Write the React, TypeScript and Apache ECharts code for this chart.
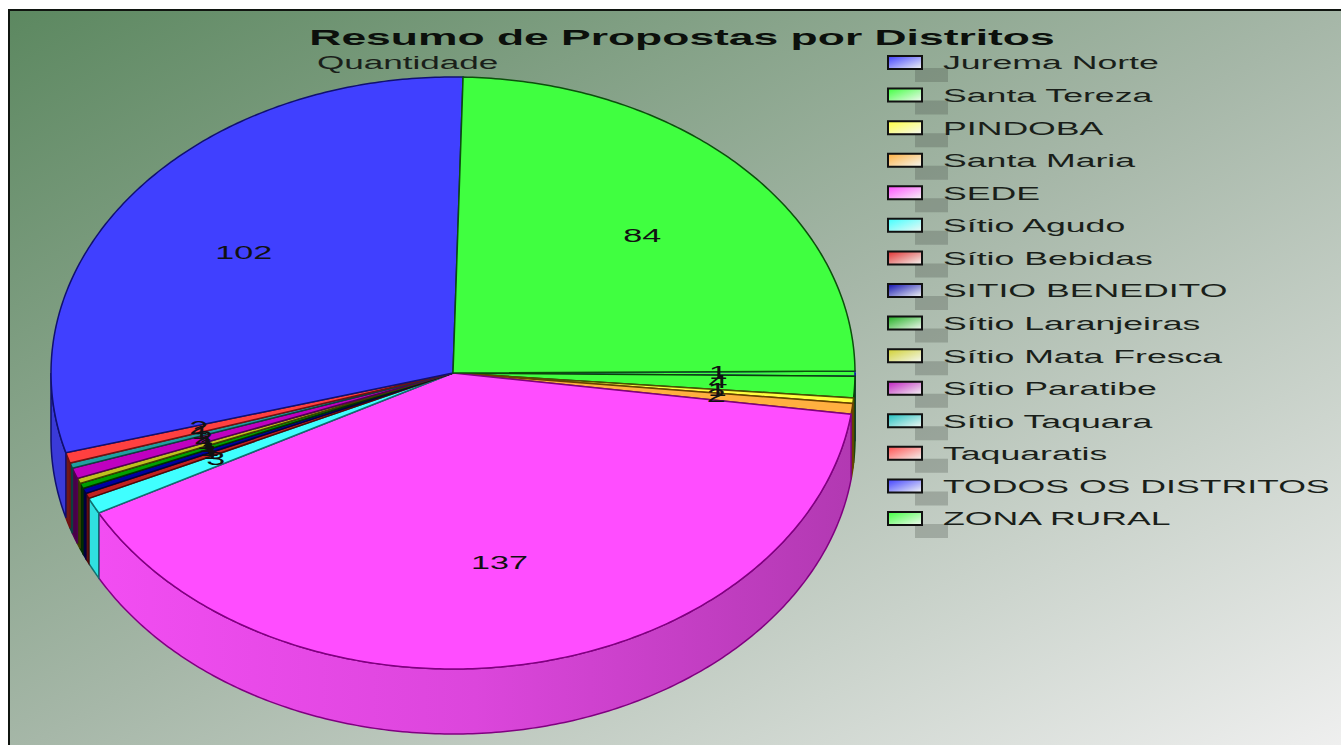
import React, { useEffect, useRef } from "react";
import * as echarts from "echarts";

const chartTitle = "Resumo de Propostas por Distritos";
const seriesName = "Quantidade";
const categories = [
  "Jurema Norte", "Santa Tereza", "PINDOBA", "Santa Maria", "SEDE", "Sítio Agudo", "Sítio Bebidas",
  "SITIO BENEDITO", "Sítio Laranjeiras", "Sítio Mata Fresca", "Sítio Paratibe", "Sítio Taquara",
  "Taquaratis", "TODOS OS DISTRITOS", "ZONA RURAL",
];
const values = [1, 4, 1, 2, 137, 3, 1, 1, 1, 1, 2, 1, 2, 102, 84];
const faceColors = [
  "#40ff40", "#40ff40", "#ffff40", "#ffb040", "#ff4dff", "#40ffff", "#c02020", "#0000a0",
  "#00a000", "#c0c020", "#c000c0", "#20a0a0", "#ff4040", "#4040ff", "#40ff40",
];
const strokeColors = [
  "#1010a0", "#0c400c", "#505000", "#6a4000", "#800080", "#107070", "#500808", "#000040",
  "#003000", "#404000", "#500050", "#0c4040", "#701010", "#101070", "#0c500c",
];
const sideColors = [
  "#000030", "#062006", "#202000", "#604010", "", "#30e0e0", "#601010", "#000040",
  "#002800", "#383800", "#480048", "#0c3c3c", "#701818", "#3a3ad8", "#40ff40",
];
const legendColors = [
  "#4040ff", "#40ff40", "#ffff40", "#ffb040", "#ff4dff", "#40ffff", "#e03030", "#1010b0",
  "#20b020", "#d0d030", "#c020c0", "#20c0c0", "#ff5050", "#4040ff", "#40ff40",
];

const CX = 453, CY = 373, RX = 402, RY = 296, DEPTH = 65, START = -0.4;

const total = values.reduce((a, b) => a + b, 0);
function sliceAngles(i: number) {
  let acc = 0;
  for (let k = 0; k < i; k++) acc += values[k];
  const a0 = START + (acc / total) * 360;
  const a1 = a0 + (values[i] / total) * 360;
  return [a0, a1];
}
const pt = (deg: number, dy = 0): number[] => {
  const r = (deg * Math.PI) / 180;
  return [CX + RX * Math.cos(r), CY + RY * Math.sin(r) + dy];
};
function arc(a0: number, a1: number, dy = 0) {
  const n = Math.max(2, Math.ceil((a1 - a0) * 1.5));
  const out: number[][] = [];
  for (let k = 0; k <= n; k++) out.push(pt(a0 + ((a1 - a0) * k) / n, dy));
  return out;
}

const renderSlice = (params: any, _api: any) => {
  const i = params.dataIndex;
  const [a0, a1] = sliceAngles(i);
  const children: any[] = [];
  const s0 = Math.max(a0, 0), s1 = Math.min(a1, 180);
  if (s1 > s0) {
    const top = arc(s0, s1);
    const bottom = arc(s0, s1, DEPTH).reverse();
    const fill =
      sideColors[i] ||
      new echarts.graphic.LinearGradient(0, 0, 1, 0, [
        { offset: 0, color: "#f24df2" },
        { offset: 0.5, color: "#dc46dc" },
        { offset: 1, color: "#b239b2" },
      ]);
    children.push({
      type: "polygon",
      shape: { points: top.concat(bottom) },
      style: { fill, stroke: strokeColors[i], lineWidth: 1.5 },
    });
  }
  children.push({
    type: "polygon",
    shape: { points: [[CX, CY] as number[]].concat(arc(a0, a1)) },
    style: { fill: faceColors[i], stroke: strokeColors[i], lineWidth: 1.5 },
  });
  return { type: "group", children };
};

const renderLabel = (params: any, api: any) => {
  const [a0, a1] = sliceAngles(params.dataIndex);
  const r = (((a0 + a1) / 2) * Math.PI) / 180;
  return {
    type: "text",
    x: CX + RX * 0.66 * Math.cos(r),
    y: CY + RY * 0.655 * Math.sin(r) - 1,
    scaleX: 1.9,
    style: {
      text: String(api.value(0)),
      fontFamily: "Liberation Sans",
      fontSize: 18,
      fill: "#111",
      align: "center",
      verticalAlign: "middle",
    },
  };
};

const legendGraphics = () => {
  const out: any[] = [];
  categories.forEach((name, i) => {
    const y = 62 + i * 32.57;
    out.push({
      type: "rect",
      shape: { x: 915, y: y + 6, width: 33, height: 14 },
      style: { fill: "rgba(70,75,70,0.28)" },
    });
    out.push({
      type: "rect",
      shape: { x: 888, y: y - 6, width: 34, height: 13 },
      style: {
        fill: new echarts.graphic.LinearGradient(0, 0, 1, 1, [
          { offset: 0, color: legendColors[i] },
          { offset: 1, color: "#f4f8f4" },
        ]),
        stroke: "#111",
        lineWidth: 2,
      },
    });
    out.push({
      type: "text",
      x: 943,
      y: y + 1,
      scaleX: 1.98,
      style: {
        text: name,
        fontFamily: "Liberation Sans",
        fontSize: 18,
        fill: "#1a1f1a",
        align: "left",
        verticalAlign: "middle",
      },
    });
  });
  return out;
};

export default function App() {
  const ref = useRef<HTMLDivElement>(null);
  useEffect(() => {
    const chart = echarts.init(ref.current!, null, { renderer: "svg" });
    const data = values.map((v, i) => ({ name: categories[i], value: v }));
    chart.setOption({
      animation: false,
      backgroundColor: "#ffffff",
      graphic: [
        {
          type: "group",
          z: -10,
          silent: true,
          children: [
            {
              type: "rect",
              shape: { x: 9, y: 10, width: 1340, height: 745 },
              style: {
                fill: new echarts.graphic.LinearGradient(0, 0, 1, 1, [
                  { offset: 0, color: "#5c8860" },
                  { offset: 0.5, color: "#a6b7a8" },
                  { offset: 1, color: "#f0f0f0" },
                ]),
                stroke: "#101510",
                lineWidth: 2,
              },
            },
          ],
        },
        {
          type: "group",
          z: 10,
          silent: true,
          children: [
            {
              type: "text",
              x: 682,
              y: 37,
              scaleX: 2.02,
              style: {
                text: chartTitle,
                fontFamily: "Liberation Sans",
                fontWeight: "bold",
                fontSize: 22,
                fill: "#0c100c",
                align: "center",
                verticalAlign: "middle",
              },
            },
            {
              type: "text",
              x: 317,
              y: 63,
              scaleX: 1.95,
              style: {
                text: seriesName,
                fontFamily: "Liberation Sans",
                fontSize: 18,
                fill: "#1a1f1a",
                align: "left",
                verticalAlign: "middle",
              },
            },
            ...legendGraphics(),
          ],
        },
      ],
      series: [
        {
          type: "custom",
          name: seriesName,
          coordinateSystem: "none",
          silent: true,
          clip: false,
          z: 2,
          renderItem: renderSlice,
          data,
        },
        {
          type: "custom",
          name: seriesName + " rótulos",
          coordinateSystem: "none",
          silent: true,
          clip: false,
          z: 3,
          renderItem: renderLabel,
          data,
        },
      ],
    });
    return () => chart.dispose();
  }, []);
  return <div ref={ref} style={{ position: "fixed", left: 0, top: 0, width: 1341, height: 745 }} />;
}
